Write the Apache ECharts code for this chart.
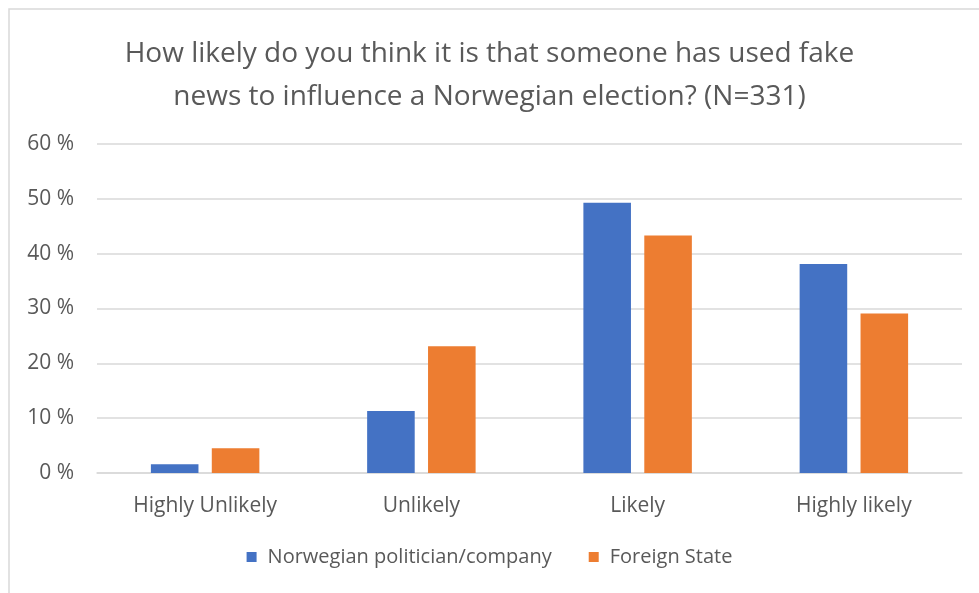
<!DOCTYPE html>
<html>
<head>
<meta charset="utf-8">
<script src="https://cdn.jsdelivr.net/npm/echarts@6/dist/echarts.min.js"></script>
<style>
  html, body { margin: 0; padding: 0; background: #fff; }
  #chart { width: 979px; height: 593px; }
</style>
</head>
<body>
<div id="chart"></div>
<script>
var chart = echarts.init(document.getElementById('chart'));

// data
var categories = ['Highly Unlikely', 'Unlikely', 'Likely', 'Highly likely'];
var norwegian = [1.6, 11.3, 49.3, 38.1];
var foreign = [4.5, 23.1, 43.3, 29.1];
var seriesNames = ['Norwegian politician/company', 'Foreign State'];

var font = 'Open Sans';
var grey = '#595959';

option = {
    animation: false,
    color: ['#4472C4', '#ED7D31'],
    title: {
        text: 'How likely do you think it is that someone has used fake\nnews to influence a Norwegian election? (N=331)',
        left: 'center',
        top: 28,
        textStyle: {
            fontFamily: font,
            fontSize: 28,
            fontWeight: 'normal',
            color: grey,
            lineHeight: 43
        }
    },
    legend: {
        bottom: 21,
        left: 'center',
        itemWidth: 10,
        itemHeight: 10,
        itemGap: 37,
        icon: 'rect',
        textStyle: { fontFamily: font, fontSize: 20, color: grey, padding: [0, 0, 0, 6] },
        data: seriesNames
    },
    grid: {
        left: 97,
        right: 17,
        top: 144,
        bottom: 120
    },
    xAxis: {
        type: 'category',
        data: categories,
        axisTick: { show: false },
        axisLine: { lineStyle: { color: '#d9d9d9', width: 1.5 } },
        axisLabel: { fontFamily: font, fontSize: 21, color: grey, margin: 23 }
    },
    yAxis: {
        type: 'value',
        min: 0,
        max: 60,
        interval: 10,
        axisLabel: {
            fontFamily: font, fontSize: 21, color: grey, margin: 23,
            formatter: function (v) { return v + ' %'; }
        },
        splitLine: { lineStyle: { color: '#d9d9d9', width: 1.5 } }
    },
    series: [
        {
            name: seriesNames[0],
            type: 'bar',
            data: norwegian,
            barWidth: '22%',
            barGap: '28%'
        },
        {
            name: seriesNames[1],
            type: 'bar',
            data: foreign,
            barWidth: '22%',
            barGap: '28%'
        }
    ],
    graphic: [{
        type: 'rect',
        shape: { x: 9, y: 9, width: 990, height: 600 },
        style: { fill: null, stroke: '#d9d9d9', lineWidth: 1.5 },
        silent: true
    }]
};

chart.setOption(option);
</script>
</body>
</html>
